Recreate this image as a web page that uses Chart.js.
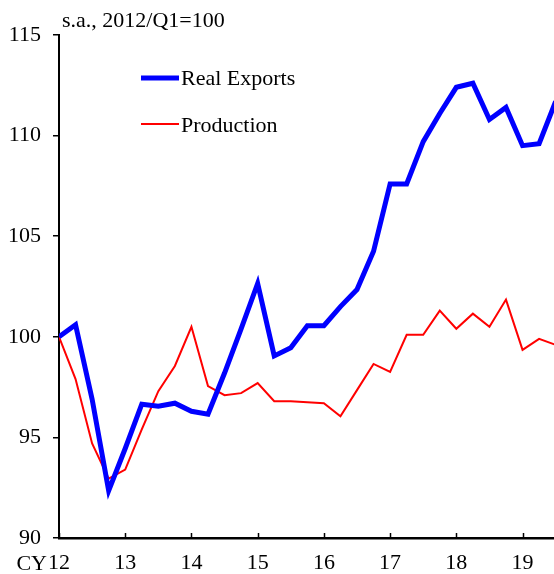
<!DOCTYPE html>
<html>
<head>
<meta charset="utf-8">
<script src="https://cdn.jsdelivr.net/npm/chart.js@4/dist/chart.umd.min.js"></script>
<style>
  html, body { margin: 0; padding: 0; background: #fff; }
  canvas { display: block; }
</style>
</head>
<body>
<canvas id="chart" width="554" height="574"></canvas>
<script>
// quarterly, 2012Q1 = index 0 ... 2019Q3 = index 30
const yearPos = [0, 4, 8, 12, 16, 20, 24, 28];
const yearLabels = ["12", "13", "14", "15", "16", "17", "18", "19"];
const yTicks = [90, 95, 100, 105, 110, 115];

const realExports = [100.0, 100.6, 96.9, 92.35, 94.45, 96.65, 96.55, 96.7, 96.3, 96.15,
  98.2, 100.4, 102.65, 99.05, 99.45, 100.55, 100.55, 101.5, 102.35, 104.25,
  107.6, 107.6, 109.7, 111.1, 112.4, 112.6, 110.8, 111.4, 109.5, 109.6, 111.7];
const production = [100.0, 97.9, 94.7, 92.95, 93.4, 95.4, 97.3, 98.55, 100.5, 97.55,
  97.1, 97.2, 97.7, 96.8, 96.8, 96.75, 96.7, 96.05, 97.35, 98.65,
  98.25, 100.1, 100.1, 101.3, 100.4, 101.15, 100.5, 101.85, 99.35, 99.9, 99.6];

const FONT = '"Liberation Serif", "Times New Roman", serif';

const toPoints = arr => arr.map((v, i) => ({ x: i, y: v }));

/* ---- extra text + inward x ticks ---- */
const decor = {
  id: "decor",
  afterDraw(chart) {
    const ctx = chart.ctx;
    const x = chart.scales.x;
    const area = chart.chartArea;
    ctx.save();

    // x ticks pointing inward
    ctx.strokeStyle = "#000";
    ctx.lineWidth = 1.5;
    yearPos.forEach(v => {
      const px = Math.round(x.getPixelForValue(v)) + 0.5;
      ctx.beginPath();
      ctx.moveTo(px, area.bottom);
      ctx.lineTo(px, area.bottom - 5);
      ctx.stroke();
    });

    ctx.fillStyle = "#000";
    ctx.font = "22px " + FONT;
    ctx.textBaseline = "alphabetic";
    ctx.textAlign = "left";
    ctx.fillText("s.a., 2012/Q1=100", 62, 27);

    // legend
    ctx.lineWidth = 5;
    ctx.strokeStyle = "#0000ff";
    ctx.beginPath(); ctx.moveTo(141, 78); ctx.lineTo(179, 78); ctx.stroke();
    ctx.lineWidth = 2;
    ctx.strokeStyle = "#ff0000";
    ctx.beginPath(); ctx.moveTo(141, 124); ctx.lineTo(179, 124); ctx.stroke();
    ctx.fillText("Real Exports", 181, 85);
    ctx.fillText("Production", 181, 132);

    // "CY" prefix for first year label
    ctx.textAlign = "right";
    ctx.fillText("CY", 47, 570);
    ctx.restore();
  }
};

new Chart(document.getElementById("chart"), {
  type: "line",
  data: {
    datasets: [
      {
        label: "Real Exports",
        data: toPoints(realExports),
        borderColor: "#0000ff",
        borderWidth: 5,
        pointRadius: 0,
        tension: 0
      },
      {
        label: "Production",
        data: toPoints(production),
        borderColor: "#ff0000",
        borderWidth: 2,
        pointRadius: 0,
        tension: 0
      }
    ]
  },
  options: {
    responsive: false,
    animation: false,
    devicePixelRatio: 1,
    layout: { padding: { top: 35, right: 0, left: 0, bottom: 0 } },
    plugins: { legend: { display: false }, tooltip: { enabled: false } },
    scales: {
      x: {
        type: "linear",
        min: 0,
        max: 29.9,
        afterBuildTicks: s => { s.ticks = yearPos.map(v => ({ value: v })); },
        afterFit: s => { s.height = 36; },
        grid: { drawOnChartArea: false, drawTicks: false },
        border: { color: "#000", width: 2.5 },
        ticks: {
          maxRotation: 0,
          autoSkip: false,
          padding: 12,
          color: "#000",
          font: { family: FONT, size: 22 },
          callback: v => yearLabels[yearPos.indexOf(v)]
        }
      },
      y: {
        min: 90,
        max: 115,
        afterBuildTicks: s => { s.ticks = yTicks.map(v => ({ value: v })); },
        afterFit: s => { s.width = 59; },
        grid: { drawOnChartArea: false, tickLength: 6, color: "#000", lineWidth: 1.5 },
        border: { color: "#000", width: 2 },
        ticks: {
          padding: 12,
          color: "#000",
          font: { family: FONT, size: 22 }
        }
      }
    }
  },
  plugins: [decor]
});
</script>
</body>
</html>
